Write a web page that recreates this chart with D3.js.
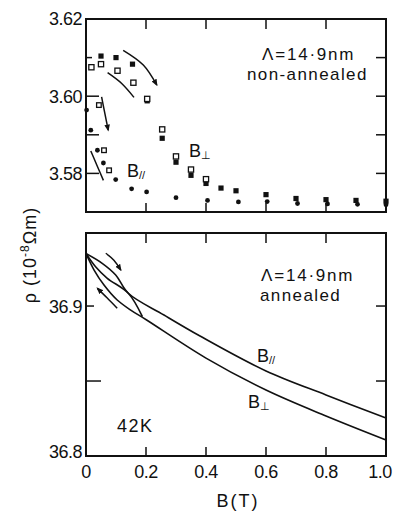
<!DOCTYPE html>
<html>
<head>
<meta charset="utf-8">
<script src="https://cdn.jsdelivr.net/npm/d3@7"></script>
<style>
body { margin: 0; background: #fff; }
svg { display: block; }
text { font-family: "Liberation Sans", Arial, sans-serif; fill: #111; }
</style>
</head>
<body>
<svg width="394" height="513"></svg>
<script>
// ---- data (B in tesla, rho in 10^-8 ohm m) ----
var xTickVals = [0.2, 0.4, 0.6, 0.8];
var xLabelVals = [0, 0.2, 0.4, 0.6, 0.8, 1.0];

var topTickVals = [3.58, 3.59, 3.60, 3.61];
var topLabelVals = [3.58, 3.60, 3.62];
var botTickVals = [36.85, 36.9];
var botLabelVals = [36.8, 36.9];

// non-annealed, B perpendicular (two sweeps)
var perpOpenB = [0.018, 0.05, 0.105, 0.158, 0.204, 0.254, 0.3, 0.35, 0.4];
var perpOpenRho = [3.6075, 3.6083, 3.6066, 3.6035, 3.5993, 3.5914, 3.5844, 3.581, 3.5785];
var perpFilledB = [0.05, 0.1, 0.155, 0.204, 0.254, 0.3, 0.35, 0.4, 0.45, 0.5, 0.6, 0.7, 0.8, 0.9, 1.0];
var perpFilledRho = [3.6104, 3.6100, 3.6083, 3.5988, 3.5891, 3.5829, 3.5795, 3.5774, 3.5762, 3.5755, 3.5745, 3.5735, 3.5732, 3.5730, 3.5728];

// non-annealed, B parallel
var parOpenB = [0.043, 0.06, 0.077];
var parOpenRho = [3.5977, 3.586, 3.5808];
var parFilledB = [0.002, 0.016, 0.038, 0.058, 0.099, 0.152, 0.202, 0.3, 0.405, 0.508, 0.604, 0.705, 0.805, 0.905, 1.0];
var parFilledRho = [3.5964, 3.5912, 3.586, 3.5827, 3.5784, 3.576, 3.5752, 3.5737, 3.573, 3.5726, 3.5727, 3.5722, 3.5721, 3.572, 3.5719];

// annealed curves
var annParB = [0, 0.054, 0.099, 0.141, 0.26, 0.38, 0.6, 0.8, 1.0];
var annParRho = [36.935, 36.9285, 36.9207, 36.9085, 36.894, 36.880, 36.8567, 36.8407, 36.8253];
var annLoopB = [0, 0.032, 0.071, 0.141, 0.188];
var annLoopRho = [36.935, 36.9262, 36.9185, 36.9085, 36.8929];
var annPerpB = [0, 0.027, 0.06, 0.104, 0.149, 0.202, 0.4, 0.6, 0.8, 1.0];
var annPerpRho = [36.935, 36.924, 36.914, 36.904, 36.8973, 36.8907, 36.8653, 36.844, 36.8267, 36.8107];

// sweep direction arrows
var topArrows = [
    {b: [0.124, 0.191, 0.236], r: [3.6119, 3.6081, 3.6029], head: true},
    {b: [0.072, 0.119, 0.16], r: [3.6061, 3.6033, 3.5997], head: false},
    {b: [0.052, 0.063, 0.074], r: [3.5998, 3.5955, 3.5912], head: true},
    {b: [0.016, 0.037, 0.058], r: [3.5858, 3.582, 3.5782], head: false}
];
var botArrows = [
    {b: [0.066, 0.093, 0.116], r: [36.9352, 36.9305, 36.924], head: true},
    {b: [0.104, 0.07, 0.038], r: [36.8985, 36.9055, 36.9118], head: true}
];

function zip(xs, ys) {
    return xs.map(function (x, i) { return [x, ys[i]]; });
}

var svg = d3.select("svg");

var left = 86, right = 386;
var x = d3.scaleLinear().domain([0, 1]).range([left, right]);
var yTop = d3.scaleLinear().domain([3.57, 3.62]).range([212, 19]);
var yBot = d3.scaleLinear().domain([36.8, 36.9487]).range([456, 233]);

svg.append("defs").append("marker")
    .attr("id", "head")
    .attr("viewBox", "0 -5 10 10")
    .attr("refX", 8)
    .attr("refY", 0)
    .attr("orient", "auto")
    .attr("markerUnits", "userSpaceOnUse")
    .attr("markerWidth", 7)
    .attr("markerHeight", 7)
    .append("path")
    .attr("d", "M0,-4L10,0L0,4Z")
    .attr("fill", "#111");

function panel(y, tickVals, labelVals, fmt, leftLen) {
    var g = svg.append("g");
    var y0 = y.range()[0], y1 = y.range()[1];
    g.append("rect")
        .attr("x", left).attr("y", y1)
        .attr("width", right - left).attr("height", y0 - y1)
        .attr("fill", "none").attr("stroke", "#111").attr("stroke-width", 2);

    // x ticks (inward, top and bottom)
    xTickVals.forEach(function (v) {
        g.append("line").attr("x1", x(v)).attr("x2", x(v)).attr("y1", y1).attr("y2", y1 + 10)
            .attr("stroke", "#111").attr("stroke-width", 1.5);
        g.append("line").attr("x1", x(v)).attr("x2", x(v)).attr("y1", y0).attr("y2", y0 - 9)
            .attr("stroke", "#111").attr("stroke-width", 1.5);
    });
    // y ticks (inward, left and right)
    tickVals.forEach(function (v) {
        g.append("line").attr("x1", left).attr("x2", left + leftLen(v)).attr("y1", y(v)).attr("y2", y(v))
            .attr("stroke", "#111").attr("stroke-width", 1.5);
        g.append("line").attr("x1", right).attr("x2", right - 10).attr("y1", y(v)).attr("y2", y(v))
            .attr("stroke", "#111").attr("stroke-width", 1.5);
    });
    labelVals.forEach(function (v) {
        g.append("text")
            .attr("x", left - 4)
            .attr("y", Math.min(Math.max(y(v), y1 - 4), y0 - 4))
            .attr("dy", "0.36em")
            .attr("text-anchor", "end")
            .style("font-size", "18px")
            .style("letter-spacing", "-0.5px")
            .text(fmt(v));
    });
    return g;
}

var gTop = panel(yTop, topTickVals, topLabelVals, d3.format(".2f"), function (v) {
    return v === 3.61 ? 6 : 13;
});
var gBot = panel(yBot, botTickVals, botLabelVals, d3.format(".1f"), function (v) {
    return v === 36.85 ? 15 : 8;
});

// x tick labels under the lower panel
xLabelVals.forEach(function (v) {
    svg.append("text")
        .attr("x", Math.min(x(v), 380)).attr("y", 478)
        .attr("text-anchor", "middle")
        .style("font-size", "18px")
        .style("letter-spacing", "-0.5px")
        .text(v === 0 ? "0" : d3.format(".1f")(v));
});

// ---- upper panel markers ----
gTop.selectAll(".pf").data(zip(perpFilledB, perpFilledRho)).enter().append("rect")
    .attr("x", function (d) { return x(d[0]) - 2.6; })
    .attr("y", function (d) { return yTop(d[1]) - 2.6; })
    .attr("width", 5.2).attr("height", 5.2)
    .attr("fill", "#111");

gTop.selectAll(".po").data(zip(perpOpenB, perpOpenRho)).enter().append("rect")
    .attr("x", function (d) { return x(d[0]) - 2.6; })
    .attr("y", function (d) { return yTop(d[1]) - 2.6; })
    .attr("width", 5.2).attr("height", 5.2)
    .attr("fill", "#fff").attr("stroke", "#111").attr("stroke-width", 1.3);

gTop.selectAll(".qf").data(zip(parFilledB, parFilledRho)).enter().append("circle")
    .attr("cx", function (d) { return x(d[0]); })
    .attr("cy", function (d) { return yTop(d[1]); })
    .attr("r", 2.4)
    .attr("fill", "#111");

gTop.selectAll(".qo").data(zip(parOpenB, parOpenRho)).enter().append("rect")
    .attr("x", function (d) { return x(d[0]) - 2.3; })
    .attr("y", function (d) { return yTop(d[1]) - 2.3; })
    .attr("width", 4.6).attr("height", 4.6)
    .attr("fill", "#fff").attr("stroke", "#111").attr("stroke-width", 1.3);

function drawArrows(g, y, arrows) {
    var line = d3.line()
        .x(function (d) { return x(d[0]); })
        .y(function (d) { return y(d[1]); })
        .curve(d3.curveNatural);
    arrows.forEach(function (a) {
        g.append("path")
            .attr("d", line(zip(a.b, a.r)))
            .attr("fill", "none").attr("stroke", "#111").attr("stroke-width", 1.5)
            .attr("marker-end", a.head ? "url(#head)" : null);
    });
}
drawArrows(gTop, yTop, topArrows);

// ---- lower panel curves ----
var curve = d3.line()
    .x(function (d) { return x(d[0]); })
    .y(function (d) { return yBot(d[1]); })
    .curve(d3.curveCatmullRom);

[zip(annParB, annParRho), zip(annLoopB, annLoopRho), zip(annPerpB, annPerpRho)].forEach(function (pts) {
    gBot.append("path")
        .attr("d", curve(pts))
        .attr("fill", "none").attr("stroke", "#111").attr("stroke-width", 1.6);
});
drawArrows(gBot, yBot, botArrows);

// ---- annotations ----
function label(txt, px, py, size, spacing) {
    return svg.append("text")
        .attr("x", px).attr("y", py)
        .style("font-size", size + "px")
        .style("letter-spacing", spacing + "px")
        .text(txt);
}
label("\u039B=14\u00B79nm", 262, 60, 17, 1.8);
label("non-annealed", 247, 80, 17, 1.4);
label("\u039B=14\u00B79nm", 261, 281, 17, 1.8);
label("annealed", 260, 301, 17, 1.4);
label("42K", 117, 432, 18, 1.5);

function bLabel(px, py, sub) {
    var t = svg.append("text").attr("x", px).attr("y", py).style("font-size", "18px");
    t.append("tspan").text("B");
    t.append("tspan").attr("dy", 2).style("font-size", "11px").text(sub);
}
bLabel(189, 157, "\u22A5");
bLabel(127, 177, "//");
bLabel(257, 362, "//");
bLabel(248, 408, "\u22A5");

// axis titles
svg.append("text")
    .attr("transform", "translate(36,255) rotate(-90)")
    .attr("text-anchor", "middle")
    .style("font-size", "18px")
    .style("letter-spacing", "1px")
    .html("\u03C1 (10<tspan dy='-7' font-size='12'>-8</tspan><tspan dy='7'>\u03A9m)</tspan>");

svg.append("text")
    .attr("x", 238).attr("y", 507)
    .attr("text-anchor", "middle")
    .style("font-size", "18px")
    .style("letter-spacing", "2px")
    .text("B(T)");
</script>
</body>
</html>
